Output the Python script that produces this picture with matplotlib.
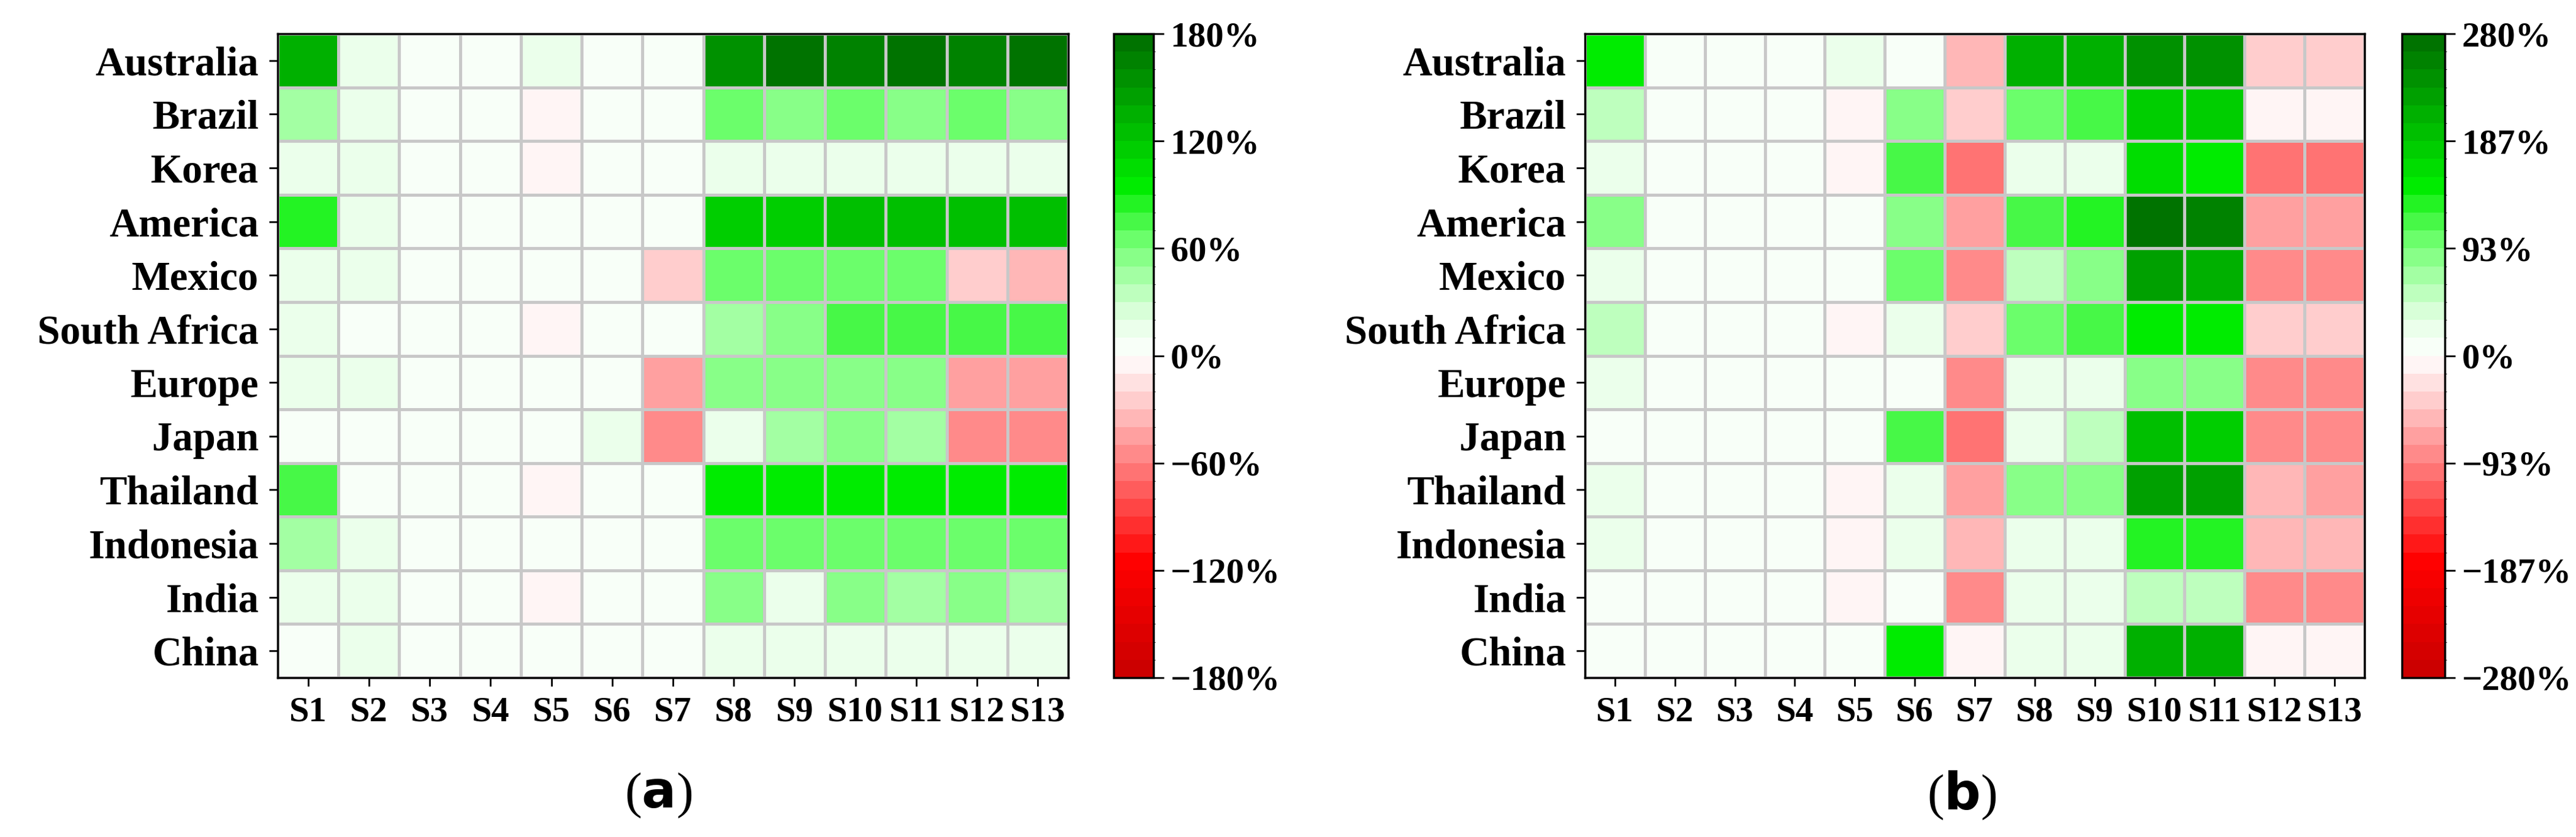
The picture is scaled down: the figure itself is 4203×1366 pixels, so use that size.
import numpy as np
import matplotlib
matplotlib.use('Agg')
import matplotlib.pyplot as plt
from matplotlib.colors import LinearSegmentedColormap, BoundaryNorm

plt.rcParams['font.family'] = ['Liberation Serif', 'DejaVu Serif']
plt.rcParams['font.weight'] = 'bold'

countries = ['Australia', 'Brazil', 'Korea', 'America', 'Mexico', 'South Africa',
             'Europe', 'Japan', 'Thailand', 'Indonesia', 'India', 'China']
scenarios = ['S%d' % i for i in range(1, 14)]

# values in percent, panel (a)
vals_a = [
    [130, 15, 5, 5, 15, 5, 5, 155, 170, 160, 170, 160, 170],
    [45, 15, 5, 5, -5, 5, 5, 65, 55, 65, 55, 65, 55],
    [15, 15, 5, 5, -5, 5, 5, 15, 15, 15, 15, 15, 10],
    [85, 15, 5, 5, 5, 5, 5, 115, 115, 125, 120, 125, 120],
    [15, 15, 5, 5, 5, 5, -30, 65, 65, 65, 65, -30, -40],
    [15, 5, 5, 5, -5, 5, 5, 40, 55, 75, 75, 75, 75],
    [15, 15, 5, 5, 5, 5, -50, 55, 55, 55, 55, -50, -50],
    [5, 5, 5, 5, 5, 15, -60, 15, 40, 55, 40, -60, -60],
    [70, 5, 5, 5, -5, 5, 5, 95, 95, 95, 95, 95, 95],
    [45, 15, 5, 5, 5, 5, 5, 65, 65, 65, 65, 65, 65],
    [15, 15, 5, 5, -5, 5, 5, 55, 15, 55, 45, 55, 40],
    [5, 15, 5, 5, 5, 5, 5, 15, 15, 15, 15, 15, 15],
]

# values in percent, panel (b)
vals_b = [
    [148, 8, 8, 8, 23, 8, -47, 210, 210, 235, 235, -40, -40],
    [62, 8, 8, 8, -10, 88, -40, 100, 115, 180, 180, -12, -12],
    [20, 8, 8, 8, -10, 118, -95, 20, 25, 170, 150, -95, -95],
    [88, 8, 8, 8, 8, 88, -70, 118, 130, 270, 262, -70, -70],
    [20, 8, 8, 8, 8, 105, -80, 62, 88, 225, 210, -80, -80],
    [62, 8, 8, 8, -10, 20, -40, 100, 115, 150, 148, -40, -40],
    [20, 8, 8, 8, 8, 8, -80, 20, 20, 88, 88, -80, -80],
    [8, 8, 8, 8, 8, 118, -95, 20, 62, 195, 180, -80, -80],
    [25, 8, 8, 8, -10, 25, -65, 88, 88, 225, 228, -50, -65],
    [20, 8, 8, 8, -10, 25, -50, 20, 20, 130, 130, -50, -50],
    [8, 8, 8, 8, -10, 8, -80, 20, 20, 62, 62, -80, -80],
    [8, 8, 8, 8, 8, 148, -12, 20, 20, 215, 210, -12, -12],
]

base = LinearSegmentedColormap.from_list('rg', [
    (0.0, (0.80, 0.0, 0.0)),
    (0.17, (1.0, 0.0, 0.0)),
    (0.33, (1.0, 0.5, 0.5)),
    (0.42, (1.0, 0.78, 0.78)),
    (0.5, (1.0, 1.0, 1.0)),
    (0.56, (0.89, 1.0, 0.89)),
    (0.68, (0.45, 1.0, 0.45)),
    (0.77, (0.0, 0.93, 0.0)),
    (1.0, (0.0, 0.45, 0.0)),
])
nbands = 36
cmap = base.resampled(nbands)


def panel(ax, cax, data, vmax, ticks):
    bounds = np.linspace(-vmax, vmax, nbands + 1)
    norm = BoundaryNorm(bounds, nbands)
    data = np.array(data, dtype=float)
    m = ax.pcolormesh(data, cmap=cmap, norm=norm, edgecolors='#c8c8c8', linewidth=2.5)
    ax.set_ylim(len(countries), 0)
    ax.set_xticks(np.arange(len(scenarios)) + 0.5)
    ax.set_xticklabels(scenarios, fontsize=42)
    ax.set_yticks(np.arange(len(countries)) + 0.5)
    ax.set_yticklabels(countries, fontsize=48)
    ax.tick_params(length=10, width=2, pad=12)
    for s in ax.spines.values():
        s.set_linewidth(2.5)
    cb = plt.colorbar(m, cax=cax, ticks=ticks)
    cb.ax.set_yticklabels(['%.0f%%' % t if t >= 0 else '\u2212%.0f%%' % -t for t in ticks], fontsize=42)
    cb.ax.tick_params(length=12, width=2, pad=8)
    cb.outline.set_linewidth(2.5)


W, H = 4203, 1366
fig = plt.figure(figsize=(W / 100, H / 100), dpi=100)
ax_a = fig.add_axes([453 / W, 1 - 1106 / H, (1743 - 453) / W, (1106 - 55) / H])
cax_a = fig.add_axes([1817 / W, 1 - 1106 / H, 65 / W, (1106 - 55) / H])
ax_b = fig.add_axes([2586 / W, 1 - 1106 / H, (3858 - 2586) / W, (1106 - 55) / H])
cax_b = fig.add_axes([3919 / W, 1 - 1106 / H, 70 / W, (1106 - 55) / H])

panel(ax_a, cax_a, vals_a, 180, [-180, -120, -60, 0, 60, 120, 180])
panel(ax_b, cax_b, vals_b, 280, list(np.linspace(-280, 280, 7)))

fig.text(1074 / W, 1 - 1298 / H, '($\\mathbf{a}$)', ha='center', va='center', fontsize=60, fontweight='normal')
fig.text(3201 / W, 1 - 1298 / H, '($\\mathbf{b}$)', ha='center', va='center', fontsize=60, fontweight='normal')

fig.savefig('out.png', dpi=100)
